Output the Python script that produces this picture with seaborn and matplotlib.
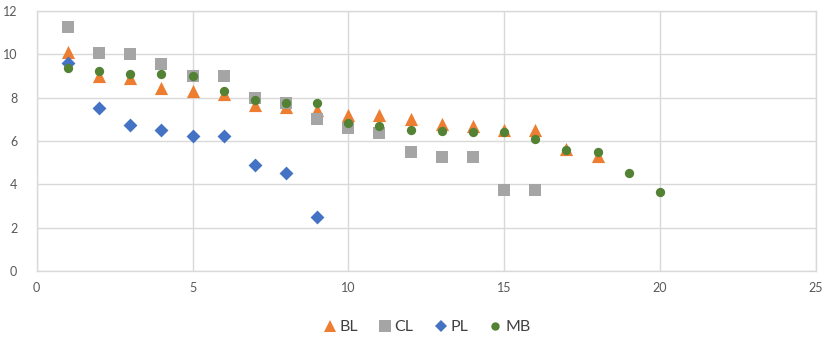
import matplotlib
matplotlib.use("Agg")
import matplotlib.pyplot as plt
import seaborn as sns
import pandas as pd
from matplotlib.lines import Line2D

# ---- data ----
bl_x = [1, 2, 3, 4, 5, 6, 7, 8, 9, 10, 11, 12, 13, 14, 15, 16, 17, 18]
bl_y = [10.1, 9.0, 8.9, 8.45, 8.3, 8.15, 7.65, 7.55, 7.45, 7.2, 7.2, 7.0, 6.8, 6.7, 6.5, 6.5, 5.65, 5.3]

cl_x = [1, 2, 3, 4, 5, 6, 7, 8, 9, 10, 11, 12, 13, 14, 15, 16]
cl_y = [11.25, 10.05, 10.0, 9.57, 9.0, 9.0, 8.0, 7.75, 7.0, 6.6, 6.35, 5.5, 5.25, 5.25, 3.75, 3.75]

pl_x = [1, 2, 3, 4, 5, 6, 7, 8, 9]
pl_y = [9.6, 7.5, 6.75, 6.5, 6.25, 6.25, 4.9, 4.5, 2.5]

mb_x = [1, 2, 3, 4, 5, 6, 7, 8, 9, 10, 11, 12, 13, 14, 15, 16, 17, 18, 19, 20]
mb_y = [9.35, 9.23, 9.09, 9.08, 9.0, 8.32, 7.87, 7.75, 7.74, 6.85, 6.7, 6.5, 6.45, 6.4, 6.4, 6.1, 5.6, 5.5, 4.5, 3.65]

series_names = ["BL", "CL", "PL", "MB"]
x_ticks = [0, 5, 10, 15, 20, 25]
y_ticks = [0, 2, 4, 6, 8, 10, 12]

# ---- styles ----
colors = {"BL": "#ED7D31", "CL": "#A5A5A5", "PL": "#4472C4", "MB": "#548235"}
markers = {"BL": "^", "CL": "s", "PL": "D", "MB": "o"}
sizes = {"BL": 90, "CL": 80, "PL": 50, "MB": 45}

frames = []
for name, xs, ys in [("BL", bl_x, bl_y), ("CL", cl_x, cl_y), ("PL", pl_x, pl_y), ("MB", mb_x, mb_y)]:
    frames.append(pd.DataFrame({"x": xs, "y": ys, "series": name}))
df = pd.concat(frames, ignore_index=True)

sns.set_theme(style="white")
plt.rcParams["font.family"] = ["Lato", "DejaVu Sans"]

W, H = 827, 339
fig = plt.figure(figsize=(W / 100, H / 100), dpi=100)
left, right, top, bottom = 36.7, 815.7, 11, 271
ax = fig.add_axes([left / W, 1 - bottom / H, (right - left) / W, (bottom - top) / H])

for name in series_names:
    sub = df[df["series"] == name]
    sns.scatterplot(data=sub, x="x", y="y", ax=ax, color=colors[name],
                    marker=markers[name], s=sizes[name], linewidth=0,
                    legend=False, zorder=3)

ax.set_xlim(0, 25)
ax.set_ylim(0, 12)
ax.set_xticks(x_ticks)
ax.set_yticks(y_ticks)
ax.set_xlabel("")
ax.set_ylabel("")
ax.grid(True, color="#D9D9D9", linewidth=1)
ax.set_axisbelow(True)
for sp in ax.spines.values():
    sp.set_visible(True)
    sp.set_color("#D9D9D9")
    sp.set_linewidth(1)
ax.tick_params(axis="both", length=0, labelsize=9, labelcolor="#595959", pad=8)
ax.tick_params(axis="y", pad=14)

handles = [Line2D([0], [0], linestyle="none", marker=markers[n], color=colors[n],
                  markersize=(sizes[n] ** 0.5) * 0.9, markeredgewidth=0) for n in series_names]
fig.legend(handles, series_names, loc="center", bbox_to_anchor=(426 / W, 1 - 327 / H),
           ncol=4, frameon=False, fontsize=11.5, handletextpad=0.1, columnspacing=1.2,
           labelcolor="#404040", handlelength=1.0)

fig.savefig("out.png", dpi=100)
